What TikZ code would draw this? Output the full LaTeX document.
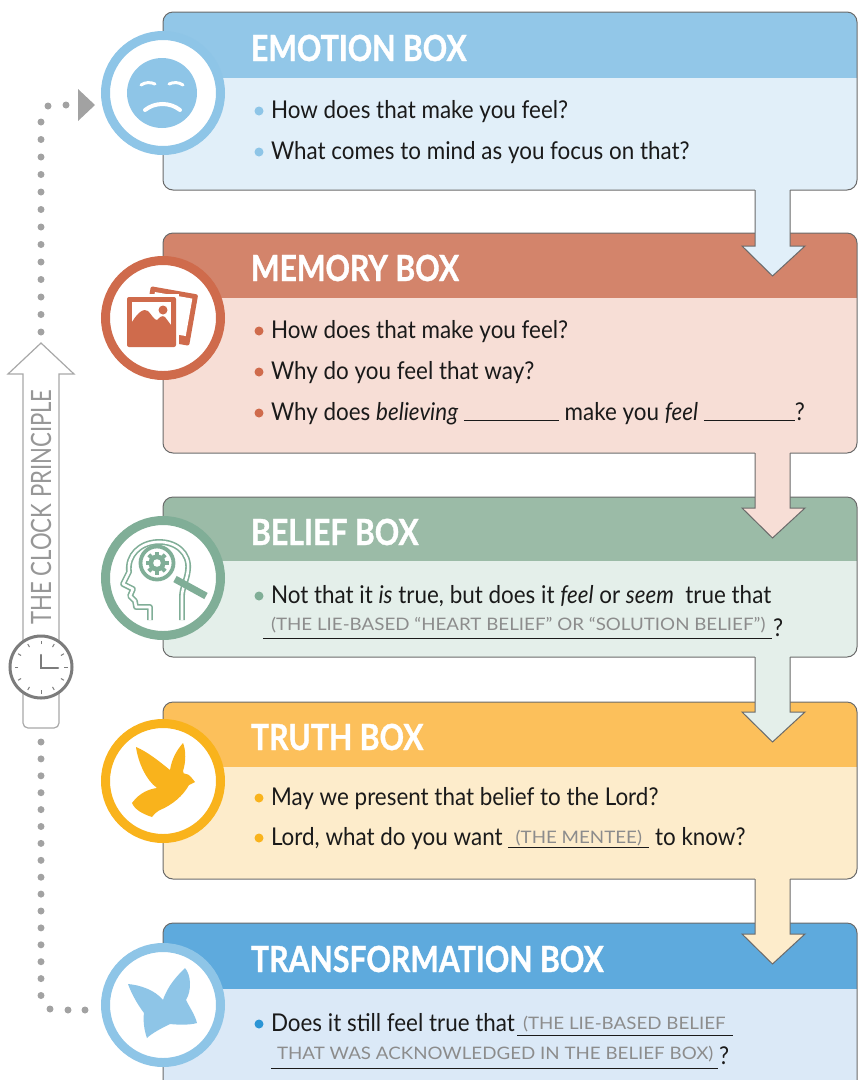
\documentclass[tikz,border=0pt]{standalone}
\usepackage{fontspec}
\setmainfont{Lato}[FakeStretch=0.915]
\newfontfamily\titlefont{Lato}[FakeStretch=0.84, BoldFeatures={FakeBold=1}]
\newfontfamily\greyfont{Lato}[FakeStretch=1.09]
\newfontfamily\clockfont{Lato}[FakeStretch=0.79]
\usetikzlibrary{calc}
\definecolor{boxedge}{HTML}{6A6A6A}
\definecolor{textblack}{HTML}{1A1A1A}
\definecolor{greytxt}{HTML}{8C8C8C}
\definecolor{dotgrey}{HTML}{A2A2A2}
\definecolor{arrowgrey}{HTML}{A8A8A8}
\definecolor{clocktxt}{HTML}{979797}
\definecolor{clockgrey}{HTML}{7C7C7C}
\definecolor{emohead}{HTML}{92C7E8}
\definecolor{emobody}{HTML}{E1EFF9}
\definecolor{emoring}{HTML}{8EC5E7}
\definecolor{memhead}{HTML}{D3846B}
\definecolor{membody}{HTML}{F7DED6}
\definecolor{memring}{HTML}{CF6B4C}
\definecolor{belhead}{HTML}{9BBBA7}
\definecolor{belbody}{HTML}{E4EFEA}
\definecolor{belring}{HTML}{80AE97}
\definecolor{truhead}{HTML}{FCC05B}
\definecolor{trubody}{HTML}{FDECCB}
\definecolor{truring}{HTML}{F9B31C}
\definecolor{trahead}{HTML}{5EAADD}
\definecolor{trabody}{HTML}{DBE9F7}
\definecolor{traring}{HTML}{8EC5E7}
\definecolor{trabullet}{HTML}{2B95D5}
\tikzset{
  boxline/.style={draw=boxedge, line width=1},
  titletext/.style={anchor=base west, inner sep=0, outer sep=0, text=white, font=\fontsize{36}{40}\selectfont\titlefont\bfseries},
  bodytext/.style={anchor=base west, inner sep=0, outer sep=0, text=textblack, font=\fontsize{24.5}{28}\selectfont},
  greytext/.style={anchor=base west, inner sep=0, outer sep=0, text=greytxt, font=\fontsize{17.2}{20}\selectfont\greyfont},
  clocktext/.style={inner sep=0, outer sep=0, text=clocktxt, font=\fontsize{28}{30}\selectfont\clockfont},
  ringcircle/.style={line width=9, fill=white},
  bulletdot/.style={circle, inner sep=0, minimum size=9},
  greydot/.style={circle, inner sep=0, minimum size=7, fill=dotgrey},
}
% box: top, header bottom, bottom, header colour, body colour
\newcommand{\drawinfobox}[5]{%
  \begin{scope}
    \clip[rounded corners=10] (163,#1) rectangle (857,#3);
    \fill[#5] (163,#1) rectangle (857,#3);
    \fill[#4] (163,#1) rectangle (857,#2);
  \end{scope}
  \draw[boxline, rounded corners=10] (163,#1) rectangle (857,#3);
}
% flow arrow: start y, head base y, colour
\newcommand{\drawflowarrow}[3]{%
  \fill[#3] (755,#1-2) -- (755,#2) -- (742,#2) -- (772.5,#2+30) -- (805,#2) -- (790,#2) -- (790,#1-2) -- cycle;
  \draw[boxline, line join=miter] (755,#1) -- (755,#2) -- (742,#2) -- (772.5,#2+30) -- (805,#2) -- (790,#2) -- (790,#1);
}
\newcommand{\blankline}[2]{\rlap{\rule[-3pt]{#1}{1pt}}\makebox[#1][c]{\raisebox{2pt}{\color{greytxt}\fontsize{17.2}{20}\selectfont\greyfont #2}}}
\begin{document}
\begin{tikzpicture}[x=1pt,y=-1pt]
\useasboundingbox (0,0) rectangle (858,1080);
\clip (0,0) rectangle (858,1080);

% ---------- boxes ----------
\drawinfobox{12}{78}{190}{emohead}{emobody}
\drawinfobox{233}{298}{453}{memhead}{membody}
\drawinfobox{497}{561}{657}{belhead}{belbody}
\drawinfobox{702}{767}{879}{truhead}{trubody}
\drawinfobox{923}{989}{1110}{trahead}{trabody}

% ---------- flow arrows ----------
\drawflowarrow{190}{246}{emobody}
\drawflowarrow{453}{508}{membody}
\drawflowarrow{657}{712}{belbody}
\drawflowarrow{879}{934}{trubody}

% ---------- titles ----------
\node[titletext] (t1) at (251,61) {EMOTION BOX};
\node[titletext] (t2) at (251,281) {MEMORY BOX};
\node[titletext] (t3) at (251,545) {BELIEF BOX};
\node[titletext] (t4) at (251,750) {TRUTH BOX};
\node[titletext] (t5) at (251,972) {TRANSFORMATION BOX};

% ---------- emotion text ----------
\node[bulletdot, fill=emoring] (b11) at (259,111) {};
\node[bodytext] (e1) at (271,118) {How does that make you feel?};
\node[bulletdot, fill=emoring] (b12) at (259,152) {};
\node[bodytext] (e2) at (271,159) {What comes to mind as you focus on that?};

% ---------- memory text ----------
\node[bulletdot, fill=memring] (b21) at (259,331) {};
\node[bodytext] (m1) at (271,338) {How does that make you feel?};
\node[bulletdot, fill=memring] (b22) at (259,372) {};
\node[bodytext] (m2) at (271,379) {Why do you feel that way?};
\node[bulletdot, fill=memring] (b23) at (259,413) {};
\node[bodytext] (m3) at (271,420) {Why does \textit{believing} \rule[-1pt]{95pt}{1.1pt} make you \textit{feel} \rule[-1pt]{91pt}{1.1pt}?};

% ---------- belief text ----------
\node[bulletdot, fill=belring] (b31) at (259,596) {};
\node[bodytext] (bl1) at (271,603) {Not that it \textit{is} true, but does it \textit{feel} or \textit{seem}\ \ true that};
\node[greytext] (bl2) at (271,630) {(THE LIE-BASED “HEART BELIEF” OR “SOLUTION BELIEF”)};
\coordinate (u1a) at (263,638);
\coordinate (u1b) at (772,638);
\draw[textblack, line width=1] (u1a) -- (u1b);
\node[bodytext] (q1) at (773,636) {?};

% ---------- truth text ----------
\node[bulletdot, fill=truring] (b41) at (259,798) {};
\node[bodytext] (tr1) at (271,805) {May we present that belief to the Lord?};
\node[bulletdot, fill=truring] (b42) at (259,838) {};
\node[bodytext] (tr2) at (271,845) {Lord, what do you want \blankline{141pt}{(THE MENTEE)} to know?};

% ---------- transformation text ----------
\node[bulletdot, fill=trabullet] (b51) at (259,1024) {};
\node[bodytext] (tf1) at (271,1031) {Does it still feel true that};
\node[greytext] (tf2) at (523,1029) {(THE LIE-BASED BELIEF};
\coordinate (u2a) at (517,1035);
\coordinate (u2b) at (733,1035);
\draw[textblack, line width=1] (u2a) -- (u2b);
\node[greytext] (tf3) at (277,1059) {THAT WAS ACKNOWLEDGED IN THE BELIEF BOX)};
\coordinate (u3a) at (271,1068);
\coordinate (u3b) at (718,1068);
\draw[textblack, line width=1] (u3a) -- (u3b);
\node[bodytext] (q2) at (719,1064) {?};

% ---------- circles ----------
\draw[ringcircle, draw=emoring] (163,93) circle (57.5);
\draw[ringcircle, draw=memring] (163,318) circle (57.5);
\draw[ringcircle, draw=belring] (163,578) circle (57.5);
\draw[ringcircle, draw=truring] (163,781) circle (57.5);
\draw[ringcircle, draw=traring] (163,1005) circle (57.5);

% sad face
\fill[emoring] (162,93) circle (35);
\draw[white, line width=3, line cap=round] (141,85) .. controls (145,82) and (151,82) .. (155,84);
\draw[white, line width=3, line cap=round] (169,84) .. controls (173,82) and (179,82) .. (183,85);
\draw[white, line width=4, line cap=round] (145,110) .. controls (155,102) and (170,102) .. (180,110);

% photos
\begin{scope}[shift={(170,316)}, rotate=-10]
  \fill[memring, rounded corners=2] (-24,-26) rectangle (24,26);
  \fill[white] (-19,-21) rectangle (19,17);
\end{scope}
\fill[white] (124,294) rectangle (179,350);
\fill[memring, rounded corners=2] (127,297) rectangle (176,347);
\fill[white] (132,302) rectangle (171,334);
\fill[memring] (132,334) -- (132,322) .. controls (138,312) and (144,308) .. (148,311) .. controls (152,315) and (154,320) .. (157,320) .. controls (160,317) and (162,315) .. (165,317) -- (171,325) -- (171,334) -- cycle;
\fill[memring] (163,310) circle (4.5);

% head with magnifier
\draw[belring, line width=1.6, double=white, double distance=2.6, line join=round]
  (150,620) -- (150,607) -- (136,607) -- (135,601) -- (130,596) -- (133,589) -- (123,584) -- (129,572)
  .. controls (127,555) and (140,543) .. (157,542) .. controls (176,541) and (190,553) .. (188,570)
  .. controls (187,580) and (182,588) .. (182,596) -- (182,620);
\draw[belring, line width=3.8, fill=white] (157,563) circle (16.5);
\draw[belring, line width=7] (175,579) -- (206,596);
\fill[belring] (157,563) circle (8.5);
\foreach \a in {0,45,...,315} \draw[belring, line width=4.2] ($(157,563)+(\a:6)$) -- ($(157,563)+(\a:11.5)$);
\fill[white] (157,563) circle (3.8);

% dove
\fill[truring] (195,782) .. controls (191,777) and (189,774) .. (186,774)
  .. controls (184,774) and (183,773) .. (183,771)
  .. controls (186,762) and (186,750) .. (183,743)
  .. controls (177,750) and (172,758) .. (170,770)
  .. controls (160,762) and (148,752) .. (136,747)
  .. controls (138,762) and (146,780) .. (157,788)
  .. controls (150,789) and (140,792) .. (132,803)
  .. controls (135,810) and (143,814) .. (152,817)
  .. controls (155,813) and (158,811) .. (160,810)
  .. controls (172,805) and (183,796) .. (189,785) -- cycle;

% butterfly
\fill[traring] (163,1000) .. controls (168,985) and (178,975) .. (185,968)
  .. controls (191,975) and (192,990) .. (186,1000)
  .. controls (190,1008) and (195,1015) .. (197,1023)
  .. controls (190,1025) and (180,1025) .. (170,1024)
  .. controls (162,1028) and (152,1033) .. (147,1038)
  .. controls (144,1030) and (143,1020) .. (144,1013)
  .. controls (138,1005) and (132,995) .. (128,984)
  .. controls (140,985) and (155,990) .. (163,1000) -- cycle;

% ---------- clock principle ----------
\foreach \k in {0,...,12} \node[greydot] (dt\k) at (41,122+17.5*\k) {};
\node[greydot] (dh1) at (48,106) {};
\node[greydot] (dh2) at (66,105) {};
\coordinate (arrtip) at (95,105);
\fill[dotgrey] (78,89) -- (arrtip) -- (78,121) -- cycle;
\foreach \k in {0,...,15} \node[greydot] (db\k) at (41,742+16.9*\k) {};
\node[greydot] (dbh1) at (50,1009) {};
\node[greydot] (dbh2) at (68,1010) {};
\node[greydot] (dbh3) at (85,1010) {};

\draw[arrowgrey, line width=1.2, fill=white, line join=miter] (23,650) -- (23,374) -- (8,374) -- (41,343) -- (74,374) -- (59,374) -- (59,650);
\draw[arrowgrey, line width=1.2, fill=white, rounded corners=5] (23,680) rectangle (59,728);
\node[clocktext, rotate=90] (clk) at (41,507) {THE CLOCK PRINCIPLE};
\draw[clockgrey, line width=3, fill=white] (41,667) circle (31);
\foreach \a in {0,30,...,330} \draw[clockgrey, line width=1] ($(41,667)+(\a:23)$) -- ($(41,667)+(\a:26.5)$);
\draw[clockgrey, line width=2.5, line cap=round] (41,655) -- (41,668) -- (58,668);
\end{tikzpicture}
\end{document}
